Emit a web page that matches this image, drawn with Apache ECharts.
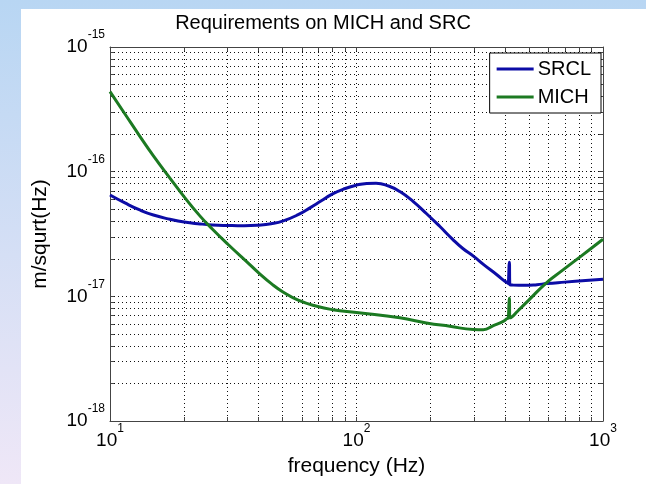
<!DOCTYPE html>
<html><head><meta charset="utf-8">
<script src="https://cdn.jsdelivr.net/npm/echarts@6/dist/echarts.min.js"></script>
<style>
html,body{margin:0;padding:0;width:646px;height:484px;overflow:hidden;background:linear-gradient(to bottom,#b8d6f3,#efe7f7);}
#fig{position:absolute;left:21px;top:9px;width:625px;height:475px;background:#fff;}
#chart{position:absolute;left:0;top:0;width:646px;height:484px;}
</style></head><body><div id="fig"></div><div id="chart"></div>
<script>
// ---- data ----
const freqSRCL = [10, 11.5, 13.2, 15, 17.5, 20, 23.2, 26, 30, 35, 40, 45, 50.5, 58, 65, 72, 80, 90, 100, 110, 120, 135, 150, 170, 192, 218, 245, 270, 298, 330, 371, 400, 413, 415, 417, 419, 433, 480, 540, 591, 700, 850, 1000];
const valSRCL = [6.5e-17, 5.61e-17, 4.93e-17, 4.49e-17, 4.15e-17, 3.94e-17, 3.81e-17, 3.74e-17, 3.7e-17, 3.68e-17, 3.72e-17, 3.82e-17, 4.03e-17, 4.52e-17, 5.15e-17, 5.85e-17, 6.64e-17, 7.33e-17, 7.8e-17, 8.05e-17, 8.09e-17, 7.67e-17, 6.92e-17, 5.75e-17, 4.62e-17, 3.63e-17, 2.88e-17, 2.42e-17, 2.1e-17, 1.78e-17, 1.49e-17, 1.32e-17, 1.27e-17, 1.26e-17, 1.88e-17, 1.24e-17, 1.23e-17, 1.225e-17, 1.24e-17, 1.265e-17, 1.3e-17, 1.34e-17, 1.37e-17];
const freqMICH = [10, 11.5, 13.2, 15, 17.5, 20, 23.2, 26, 30, 37, 40.6, 45, 50.5, 58, 69, 80, 100, 150, 192, 239, 298, 327, 359, 394, 407, 413, 415, 417, 419, 424, 450, 500, 591, 680, 759, 870, 1000];
const valMICH = [4.38e-16, 2.9e-16, 1.93e-16, 1.34e-16, 8.89e-17, 6.28e-17, 4.4e-17, 3.47e-17, 2.63e-17, 1.79e-17, 1.51e-17, 1.27e-17, 1.08e-17, 9.33e-18, 8.32e-18, 7.82e-18, 7.41e-18, 6.73e-18, 6.12e-18, 5.75e-18, 5.42e-18, 5.4e-18, 5.82e-18, 6.3e-18, 6.6e-18, 6.68e-18, 6.7e-18, 9.66e-18, 6.72e-18, 6.76e-18, 7.59e-18, 9.33e-18, 1.29e-17, 1.6e-17, 1.89e-17, 2.32e-17, 2.87e-17];
const seriesNames = ['SRCL', 'MICH'];
const seriesColors = ['#0c0ca6', '#1c7a22'];

const xMajorTicks = [10, 100, 1000];
const xTickExp = ['1', '2', '3'];
const xMinorTicks = [20, 30, 40, 50, 60, 70, 80, 90, 200, 300, 400, 500, 600, 700, 800, 900];
const yMajorTicks = [1e-18, 1e-17, 1e-16, 1e-15];
const yTickExp = ['-18', '-17', '-16', '-15'];
const yMinorTicks = [2e-18, 3e-18, 4e-18, 5e-18, 6e-18, 7e-18, 8e-18, 9e-18,
  2e-17, 3e-17, 4e-17, 5e-17, 6e-17, 7e-17, 8e-17, 9e-17,
  2e-16, 3e-16, 4e-16, 5e-16, 6e-16, 7e-16, 8e-16, 9e-16];

const titleText = 'Requirements on MICH and SRC';
const xName = 'frequency (Hz)';
const yName = 'm/squrt(Hz)';

// ---- chart ----
const FONT = 'Liberation Sans, Arial, Helvetica, sans-serif';
function labelFor(v, majors, exps) {
  for (let i = 0; i < majors.length; i++) {
    if (Math.abs(Math.log10(v) - Math.log10(majors[i])) < 1e-6) return '{b|10}{s|' + exps[i] + '}';
  }
  return '';
}
const rich = {
  b: { fontSize: 19, lineHeight: 36, fontFamily: FONT, color: '#000' },
  s: { fontSize: 12, verticalAlign: 'top', fontFamily: FONT, color: '#000' }
};
const gridLine = { show: true, lineStyle: { color: '#111', width: 1, type: [1, 3] } };
const frame = { show: true, lineStyle: { color: '#444', width: 1 } };

function xAxisDef(pos, showLabels) {
  return {
    type: 'log', logBase: 10, min: 10, max: 1000, position: pos,
    axisLine: frame,
    axisTick: { show: true, inside: true, length: 4, lineStyle: { color: '#444' }, customValues: xMajorTicks.concat(xMinorTicks) },
    axisLabel: showLabels ? { show: true, customValues: xMajorTicks, margin: 2, formatter: v => labelFor(v, xMajorTicks, xTickExp), rich: rich } : { show: false },
    splitLine: showLabels ? gridLine : { show: false },
    name: showLabels ? xName : '', nameLocation: 'middle', nameGap: 32,
    nameTextStyle: { fontSize: 21, fontFamily: FONT, color: '#000' }
  };
}
function yAxisDef(pos, showLabels) {
  return {
    type: 'log', logBase: 10, min: 1e-18, max: 1e-15, position: pos,
    axisLine: frame,
    axisTick: { show: true, inside: true, length: 4, lineStyle: { color: '#444' }, customValues: yMajorTicks.concat(yMinorTicks) },
    axisLabel: showLabels ? { show: true, customValues: yMajorTicks, margin: 5, formatter: v => labelFor(v, yMajorTicks, yTickExp), rich: rich } : { show: false },
    splitLine: showLabels ? gridLine : { show: false },
    name: showLabels ? yName : '', nameLocation: 'middle', nameGap: 59, nameRotate: 90,
    nameTextStyle: { fontSize: 21, fontFamily: FONT, color: '#000' }
  };
}

const chart = echarts.init(document.getElementById('chart'), null, { renderer: 'canvas' });
chart.setOption({
  backgroundColor: 'transparent',
  animation: false,
  title: { text: titleText, left: 'center', top: 8, textStyle: { fontSize: 20, fontWeight: 'normal', fontFamily: FONT, color: '#000' } },
  legend: {
    data: seriesNames, orient: 'vertical', right: 45, top: 53,
    backgroundColor: '#fff', borderColor: '#000', borderWidth: 1, borderRadius: 0,
    padding: [6, 10, 6, 7], itemGap: 8, itemWidth: 37, itemHeight: 3, icon: 'rect',
    textStyle: { fontSize: 20, fontFamily: FONT, color: '#000', padding: [0, 0, 0, -1] }
  },
  grid: { left: 110, right: 43, top: 47, bottom: 63, containLabel: false },
  xAxis: [xAxisDef('bottom', true), xAxisDef('top', false)],
  yAxis: [yAxisDef('left', true), yAxisDef('right', false)],
  series: [
    { name: seriesNames[0], type: 'line', xAxisIndex: 0, yAxisIndex: 0, showSymbol: false, symbol: 'none',
      smooth: 0.5,
      lineStyle: { width: 3, color: seriesColors[0] }, itemStyle: { color: seriesColors[0] },
      data: freqSRCL.map((f, i) => [f, valSRCL[i]]) },
    { name: seriesNames[1], type: 'line', xAxisIndex: 0, yAxisIndex: 0, showSymbol: false, symbol: 'none',
      smooth: 0.5,
      lineStyle: { width: 3, color: seriesColors[1] }, itemStyle: { color: seriesColors[1] },
      data: freqMICH.map((f, i) => [f, valMICH[i]]) }
  ]
});
</script></body></html>
